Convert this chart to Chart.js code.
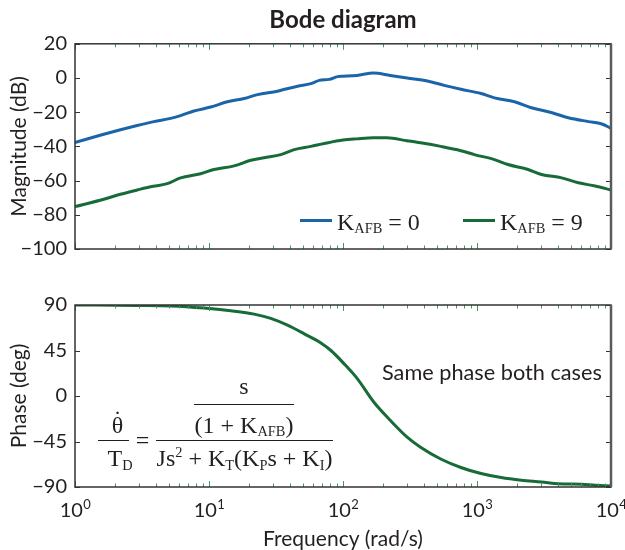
<!DOCTYPE html>
<html>
<head>
<meta charset="utf-8">
<script src="https://cdn.jsdelivr.net/npm/chart.js@4.4.0/dist/chart.umd.min.js"></script>
<style>
  body { margin: 0; background: #fff; }
  #wrap { position: relative; width: 625px; height: 550px; }
  #magChart { position: absolute; left: 0; top: 0; }
  #phaseChart { position: absolute; left: 0; top: 262px; }
</style>
</head>
<body>
<div id="wrap">
  <canvas id="magChart" width="625" height="262"></canvas>
  <canvas id="phaseChart" width="625" height="288"></canvas>
</div>
<script>
// magnitude, K_AFB = 0 (blue)
const magFreqK0 = [1, 1.64, 2.91, 3.88, 5.17, 6.14, 7.72, 10.3, 13.7, 18.3, 23, 32.4, 45.8, 57.6, 66.5, 79, 91, 100, 127, 169, 225, 301, 426, 568, 758, 1072, 1349, 1909, 2547, 3399, 4806, 6793, 8552, 10000];
const magK0 = [-37.7, -32.9, -27.8, -25.5, -23.6, -22, -19.3, -17, -13.9, -12, -9.7, -7.7, -4.8, -3.3, -1.4, -0.8, 0.8, 1.0, 1.5, 2.9, 1.5, 0, -1.7, -4.3, -6.6, -9.1, -11.6, -13.9, -17.4, -19.7, -23.2, -25.5, -26.9, -29.4];

// magnitude, K_AFB = 9 (green)
const magFreqK9 = [1, 1.64, 2.18, 2.91, 3.66, 4.88, 6.14, 8.66, 10.9, 15.4, 20.5, 25.8, 34.4, 43.2, 57.6, 72.5, 100, 127, 169, 213, 301, 379, 536, 758, 955, 1349, 1702, 2404, 3027, 4285, 5714, 7621, 10000];
const magK9 = [-75.2, -70.9, -68, -65.5, -63.6, -61.8, -58.4, -56, -53.5, -51.4, -48.1, -46.6, -44.8, -41.9, -40, -38.3, -36.3, -35.6, -35, -35, -36.7, -37.9, -40, -42.5, -44.8, -47.7, -50.6, -53.5, -56.4, -58.4, -61.3, -63.2, -65.5];

// phase, same for both cases
const phaseFreq = [1, 2.91, 5.17, 9.18, 14.5, 21.7, 28.9, 38.5, 51.4, 68.4, 81.3, 100, 127, 169, 225, 301, 379, 536, 758, 1072, 1514, 2142, 3027, 4043, 6050, 7621, 10000];
const phaseDeg = [90, 89.6, 89.1, 87, 84.3, 81, 76.7, 70, 61.5, 52.5, 45, 33, 17.7, -5.7, -24, -40.7, -50.7, -62.3, -70.7, -76.7, -80.7, -83.3, -85, -86.7, -87.3, -88.3, -89];

const magTicks = [-100, -80, -60, -40, -20, 0, 20];
const phaseTicks = [-90, -45, 0, 45, 90];
const decadeExps = [0, 1, 2, 3, 4];
const legendNames = [['K', 'AFB', ' = 0'], ['K', 'AFB', ' = 9']];

const textColor = '#231f20';
const blue = '#1a64aa';
const green = '#166b37';
const sans = 'Lato, "Open Sans", sans-serif';
const serif = '"Liberation Serif", "DejaVu Serif", serif';

function toPoints(xs, ys) {
    return xs.map((x, i) => ({ x: x, y: ys[i] }));
}

function minusSign(v) {
    return String(v).replace('-', '\u2212');
}

// text with sub/superscripts, parts = [[text, mode], ...]
function drawRun(ctx, x, y, parts, size, measureOnly) {
    let cx = x;
    for (const [t, mode] of parts) {
        const s = mode ? size * 0.6 : size;
        ctx.font = s + 'px ' + serif;
        const dy = mode === 'sub' ? size * 0.16 : mode === 'sup' ? -size * 0.36 : 0;
        if (!measureOnly) ctx.fillText(t, cx, y + dy);
        cx += ctx.measureText(t).width;
    }
    return cx - x;
}

function drawRunCentered(ctx, cx, y, parts, size) {
    const w = drawRun(ctx, 0, 0, parts, size, true);
    drawRun(ctx, cx - w / 2, y, parts, size, false);
}

// frame + inward ticks like the matlab box
const framePlugin = {
    id: 'frame',
    afterDatasetsDraw(chart) {
        const ctx = chart.ctx;
        const a = chart.chartArea;
        const xs = chart.scales.x;
        const ys = chart.scales.y;
        ctx.save();
        ctx.lineWidth = 1;
        ctx.strokeStyle = '#3d9a60';
        for (let k = 0; k < 4; k++) {
            for (let m = 1; m <= 9; m++) {
                const px = Math.round(xs.getPixelForValue(m * Math.pow(10, k))) + 0.5;
                const len = m === 1 ? 6 : 3.5;
                ctx.beginPath();
                ctx.moveTo(px, a.top); ctx.lineTo(px, a.top + len);
                ctx.moveTo(px, a.bottom); ctx.lineTo(px, a.bottom - len);
                ctx.stroke();
            }
        }
        ctx.strokeStyle = '#333';
        ys.ticks.forEach(t => {
            const py = Math.round(ys.getPixelForValue(t.value)) + 0.5;
            ctx.beginPath();
            ctx.moveTo(a.left, py); ctx.lineTo(a.left + 5, py);
            ctx.moveTo(a.right, py); ctx.lineTo(a.right - 5, py);
            ctx.stroke();
        });
        ctx.lineWidth = 1.5;
        ctx.strokeStyle = '#333';
        ctx.strokeRect(a.left, a.top, a.right - a.left, a.bottom - a.top);
        ctx.lineWidth = 2.5;
        ctx.strokeStyle = '#5a5a5a';
        ctx.beginPath();
        ctx.moveTo(a.right, a.top); ctx.lineTo(a.right, a.bottom);
        ctx.stroke();
        ctx.restore();
    }
};

const magLegendPlugin = {
    id: 'magLegend',
    afterDraw(chart) {
        const ctx = chart.ctx;
        const startX = [300, 463];
        ctx.save();
        chart.data.datasets.forEach((ds, i) => {
            ctx.strokeStyle = ds.borderColor;
            ctx.lineWidth = 3;
            ctx.beginPath();
            ctx.moveTo(startX[i], 220.5);
            ctx.lineTo(startX[i] + 32, 220.5);
            ctx.stroke();
            ctx.fillStyle = textColor;
            ctx.textBaseline = 'alphabetic';
            const n = legendNames[i];
            drawRun(ctx, startX[i] + 37, 229.5, [[n[0], ''], [n[1], 'sub'], [n[2], '']], 24);
        });
        ctx.restore();
    }
};

const phaseNotesPlugin = {
    id: 'phaseNotes',
    afterDraw(chart) {
        const ctx = chart.ctx;
        const xs = chart.scales.x;
        const a = chart.chartArea;
        ctx.save();
        ctx.fillStyle = textColor;
        ctx.textBaseline = 'alphabetic';

        // decade labels 10^n
        decadeExps.forEach(e => {
            const px = xs.getPixelForValue(Math.pow(10, e));
            ctx.font = '20px ' + sans;
            const wb = ctx.measureText('10').width;
            ctx.font = '13px ' + sans;
            const we = ctx.measureText(String(e)).width;
            const x0 = px - (wb + we) / 2;
            ctx.font = '20px ' + sans;
            ctx.fillText('10', x0, a.bottom + 30);
            ctx.font = '13px ' + sans;
            ctx.fillText(String(e), x0 + wb + 0.5, a.bottom + 22);
        });

        // annotation
        const note = 'Same phase both cases';
        ctx.font = '100px ' + sans;
        const size = 100 * 220 / ctx.measureText(note).width;
        ctx.font = size + 'px ' + sans;
        ctx.fillText(note, 382, 118);

        // transfer function
        const sz = 24;
        ctx.strokeStyle = textColor;
        ctx.lineWidth = 1;
        ctx.beginPath();
        ctx.moveTo(194, 142.5); ctx.lineTo(294, 142.5);
        ctx.moveTo(98, 178.5); ctx.lineTo(129, 178.5);
        ctx.moveTo(156, 178.5); ctx.lineTo(333, 178.5);
        ctx.stroke();
        drawRunCentered(ctx, 244, 132, [['s', '']], sz);
        drawRunCentered(ctx, 244, 170.5, [['(1 + K', ''], ['AFB', 'sub'], [')', '']], sz);
        drawRunCentered(ctx, 117.5, 170.5, [['\u03b8', '']], sz);
        drawRunCentered(ctx, 117.5, 165, [['\u02d9', '']], sz);
        drawRunCentered(ctx, 120, 204, [['T', ''], ['D', 'sub']], sz);
        drawRunCentered(ctx, 142.5, 186, [['=', '']], sz);
        drawRunCentered(ctx, 244.5, 204, [['Js', ''], ['2', 'sup'], [' + K', ''], ['T', 'sub'], ['(K', ''], ['P', 'sub'], ['s + K', ''], ['I', 'sub'], [')', '']], sz);
        ctx.restore();
    }
};

function fixY(width) {
    return scale => {
        scale.width = width;
        scale.paddingTop = 0;
        scale.paddingBottom = 0;
    };
}

function fixX(height) {
    return scale => {
        scale.height = height;
        scale.paddingLeft = 0;
        scale.paddingRight = 0;
    };
}

const tickFont = { family: sans, size: 20 };
const titleFont = { family: sans, size: 21 };

function afficherMagnitude() {
    new Chart(document.getElementById('magChart'), {
        type: 'line',
        data: {
            datasets: [{
                label: 'K_AFB = 0',
                data: toPoints(magFreqK0, magK0),
                borderColor: blue,
                borderWidth: 3,
                pointRadius: 0,
                cubicInterpolationMode: 'monotone'
            }, {
                label: 'K_AFB = 9',
                data: toPoints(magFreqK9, magK9),
                borderColor: green,
                borderWidth: 3,
                pointRadius: 0,
                cubicInterpolationMode: 'monotone'
            }]
        },
        options: {
            responsive: false,
            animation: false,
            layout: { padding: { left: 0, right: 14, top: 0, bottom: 13 } },
            plugins: {
                legend: { display: false },
                tooltip: { enabled: false },
                title: {
                    display: true,
                    text: 'Bode diagram',
                    fullSize: false,
                    color: textColor,
                    font: { family: sans, weight: 'bold', size: 24 },
                    padding: { top: 6, bottom: 9 }
                }
            },
            scales: {
                x: {
                    type: 'logarithmic',
                    min: 1,
                    max: 10000,
                    ticks: { display: false },
                    grid: { display: false },
                    border: { display: false },
                    afterFit: fixX(0)
                },
                y: {
                    min: magTicks[0],
                    max: magTicks[magTicks.length - 1],
                    afterBuildTicks: s => { s.ticks = magTicks.map(v => ({ value: v })); },
                    ticks: { font: tickFont, color: textColor, padding: 8, callback: v => minusSign(v) },
                    grid: { display: false, drawTicks: false },
                    border: { display: false },
                    title: { display: true, text: 'Magnitude (dB)', font: titleFont, color: textColor, padding: { top: 7 } },
                    afterFit: fixY(75)
                }
            }
        },
        plugins: [framePlugin, magLegendPlugin]
    });
}

function afficherPhase() {
    new Chart(document.getElementById('phaseChart'), {
        type: 'line',
        data: {
            datasets: [{
                label: 'Phase',
                data: toPoints(phaseFreq, phaseDeg),
                borderColor: green,
                borderWidth: 3,
                pointRadius: 0,
                cubicInterpolationMode: 'monotone'
            }]
        },
        options: {
            responsive: false,
            animation: false,
            layout: { padding: { left: 0, right: 14, top: 43, bottom: 0 } },
            plugins: {
                legend: { display: false },
                tooltip: { enabled: false }
            },
            scales: {
                x: {
                    type: 'logarithmic',
                    min: 1,
                    max: 10000,
                    ticks: { display: false },
                    grid: { display: false },
                    border: { display: false },
                    title: { display: true, text: 'Frequency (rad/s)', font: titleFont, color: textColor, padding: { top: 0, bottom: -2 } },
                    afterFit: fixX(63)
                },
                y: {
                    min: phaseTicks[0],
                    max: phaseTicks[phaseTicks.length - 1],
                    afterBuildTicks: s => { s.ticks = phaseTicks.map(v => ({ value: v })); },
                    ticks: { font: tickFont, color: textColor, padding: 8, callback: v => minusSign(v) },
                    grid: { display: false, drawTicks: false },
                    border: { display: false },
                    title: { display: true, text: 'Phase (deg)', font: titleFont, color: textColor, padding: { top: 7 } },
                    afterFit: fixY(75)
                }
            }
        },
        plugins: [framePlugin, phaseNotesPlugin]
    });
}

afficherMagnitude();
afficherPhase();
</script>
</body>
</html>
